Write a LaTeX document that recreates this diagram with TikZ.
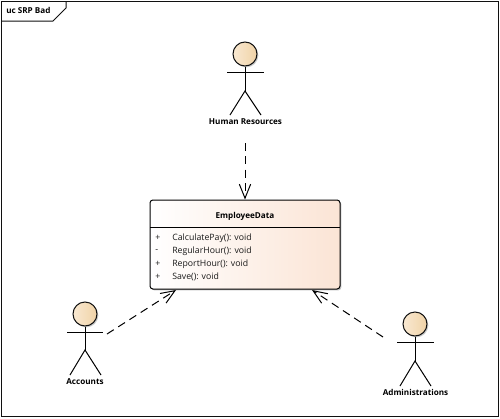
\documentclass[tikz,border=0pt]{standalone}
\usepackage{fontspec}
\setmainfont{Open Sans}
\usetikzlibrary{arrows.meta,shadows}
\definecolor{ink}{HTML}{101010}
\definecolor{peach}{HTML}{FBE4D5}
\definecolor{headA}{HTML}{F9E9D2}
\definecolor{headB}{HTML}{F0D2A6}
\tikzset{
  x=0.75pt,y=-0.75pt,
  frameline/.style={draw=ink,line width=0.75pt},
  limb/.style={draw=black,line width=0.75pt},
  head/.style={circle,draw=ink,line width=0.75pt,minimum size=18pt,inner sep=0pt,left color=headA,right color=headB,
    drop shadow={shadow xshift=1pt,shadow yshift=-1pt,fill=black!35,opacity=0.6}},
  classbox/.style={draw=black,line width=0.75pt,rounded corners=2.2pt,minimum width=142.5pt,minimum height=66.75pt,inner sep=0pt,left color=white,right color=peach,
    drop shadow={shadow xshift=1pt,shadow yshift=-1pt,fill=black!40,opacity=0.6}},
  actorlabel/.style={font=\bfseries\fontsize{6.1pt}{8pt}\selectfont,text=black,inner sep=0pt},
  oplabel/.style={font=\fontsize{6.55pt}{8pt}\selectfont,text=black!90,inner sep=0pt,anchor=west},
  dep/.style={draw=black,line width=0.75pt,dash pattern=on 6pt off 4pt,-{Straight Barb[length=10.5pt,width=8.5pt]}},
}
\begin{document}
\begin{tikzpicture}
\useasboundingbox (0,0) rectangle (500,418);
\fill[white] (0,0) rectangle (500,418);
% frame
\draw[frameline] (1,1) rectangle (498,416.5);
\draw[frameline] (1,21) -- (53,21) -- (66,8) -- (66,1);
\node[font=\bfseries\fontsize{6.1pt}{8pt}\selectfont,inner sep=0pt,anchor=west] (frametitle) at (6,10.5) {uc SRP Bad};

% class
\node[classbox] (cls) at (245,244.5) {};
\draw[draw=black,line width=0.75pt] (150,227) -- (340,227);
\node[actorlabel] (clsname) at (245,216) {EmployeeData};
\node[oplabel] (v1) at (155,238) {+};
\node[oplabel] (n1) at (172,238) {CalculatePay(): void};
\node[oplabel] (v2) at (155,251) {-};
\node[oplabel] (n2) at (172,251) {RegularHour(): void};
\node[oplabel] (v3) at (155,264) {+};
\node[oplabel] (n3) at (172,264) {ReportHour(): void};
\node[oplabel] (v4) at (155,277) {+};
\node[oplabel] (n4) at (172,277) {Save(): void};

% Human Resources
\node[head] (hrhead) at (245,54) {};
\draw[limb] (227,72) -- (264,72);
\draw[limb] (hrhead.south) -- (245,91);
\draw[limb] (230,115) -- (245,91) -- (261,115);
\node[actorlabel] (hr) at (245.5,122) {Human Resources};

% Accounts
\node[head] (achead) at (85,314) {};
\draw[limb] (67,332) -- (103,332);
\draw[limb] (achead.south) -- (85,350);
\draw[limb] (70,375) -- (85,350) -- (101,375);
\node[actorlabel] (ac) at (85,382) {Accounts};

% Administrations
\node[head] (adhead) at (415,324) {};
\draw[limb] (397,342) -- (434,342);
\draw[limb] (adhead.south) -- (415,361);
\draw[limb] (400,386) -- (415,361) -- (431,386);
\node[actorlabel] (ad) at (415.5,392) {Administrations};

% connectors
\coordinate (hrfrom) at (245,143);
\coordinate (hrto) at (245,199.5);
\coordinate (acfrom) at (107,334);
\coordinate (acto) at (176,290);
\coordinate (adfrom) at (383,337);
\coordinate (adto) at (312,290);
\draw[dep] (hrfrom) -- (hrto);
\draw[dep] (acfrom) -- (acto);
\draw[dep] (adfrom) -- (adto);
\end{tikzpicture}
\end{document}
